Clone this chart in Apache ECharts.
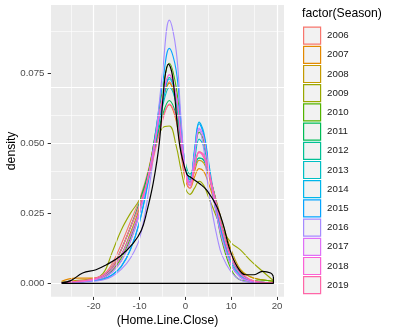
<!DOCTYPE html>
<html>
<head>
<meta charset="utf-8">
<script src="https://cdn.jsdelivr.net/npm/echarts@6/dist/echarts.min.js"></script>
<style>html,body{margin:0;padding:0;background:#fff;}#c{width:394px;height:331px;}</style>
</head>
<body>
<div id="c"></div>
<script>
// ---- data ----
const seasons = ['2006','2007','2008','2009','2010','2011','2012','2013','2014','2015','2016','2017','2018','2019'];
const colors = ['#F8766D','#E38900','#C49A00','#99A800','#53B400','#00BC56','#00C094','#00BFC4','#00B6EB','#06A4FF','#A58AFF','#DF70F8','#FB61D7','#FF66A8'];
const xs = [-27,-24,-21,-18,-16,-14,-12,-10,-8,-6.5,-5,-3.5,-2,-1,0,1,2,3,4,5,6,7,8,10,12,14,16,19.2];
const s2006 = [0.0003,0.0008,0.0015,0.003,0.007,0.014,0.022,0.030,0.041,0.053,0.065,0.072,0.065,0.052,0.040,0.036,0.042,0.047,0.045,0.039,0.032,0.025,0.018,0.0085,0.0035,0.0013,0.0005,0.0002];
const s2007 = [0.0008,0.0019,0.0019,0.002,0.005,0.012,0.020,0.028,0.038,0.049,0.059,0.0638,0.058,0.047,0.037,0.034,0.038,0.041,0.040,0.036,0.031,0.026,0.020,0.010,0.0045,0.0025,0.0015,0.0008];
const s2008 = [0.0004,0.001,0.0015,0.0025,0.005,0.010,0.018,0.027,0.040,0.053,0.065,0.0715,0.064,0.051,0.039,0.035,0.040,0.044,0.043,0.039,0.034,0.028,0.022,0.012,0.005,0.0025,0.0015,0.0008];
const s2009 = [0.0005,0.0008,0.0012,0.0035,0.011,0.019,0.025,0.030,0.039,0.049,0.0555,0.0562,0.049,0.041,0.034,0.0318,0.034,0.0365,0.035,0.031,0.027,0.023,0.0195,0.0145,0.012,0.0085,0.0055,0.001];
const s2010 = [0.0002,0.0005,0.001,0.002,0.0045,0.009,0.016,0.026,0.040,0.054,0.069,0.0786,0.070,0.055,0.041,0.037,0.046,0.054,0.051,0.042,0.032,0.023,0.015,0.005,0.0012,0.0008,0.0012,0.0008];
const s2011 = [0.0003,0.0007,0.0012,0.0025,0.006,0.012,0.020,0.029,0.040,0.050,0.060,0.0653,0.060,0.050,0.041,0.038,0.042,0.0448,0.044,0.040,0.034,0.027,0.020,0.009,0.0035,0.0013,0.0005,0.0002];
const s2012 = [0.0003,0.0006,0.001,0.002,0.005,0.010,0.017,0.026,0.039,0.052,0.065,0.0735,0.067,0.054,0.043,0.039,0.042,0.0448,0.044,0.040,0.034,0.027,0.020,0.009,0.0035,0.0013,0.0005,0.0002];
const s2013 = [0.0002,0.0005,0.001,0.002,0.004,0.008,0.015,0.025,0.039,0.051,0.063,0.070,0.064,0.051,0.040,0.036,0.044,0.0515,0.049,0.041,0.033,0.025,0.018,0.008,0.003,0.0012,0.0005,0.0002];
const s2014 = [0.0002,0.0004,0.0008,0.0015,0.003,0.006,0.012,0.022,0.037,0.051,0.064,0.073,0.067,0.053,0.041,0.037,0.048,0.0576,0.054,0.044,0.034,0.025,0.017,0.007,0.0025,0.001,0.0004,0.0002];
const s2015 = [0.0002,0.0004,0.0008,0.0015,0.003,0.006,0.012,0.022,0.038,0.054,0.071,0.0839,0.076,0.058,0.041,0.036,0.047,0.057,0.053,0.043,0.032,0.023,0.016,0.0065,0.0022,0.0008,0.0003,0.0001];
const s2016 = [0.0001,0.0003,0.0006,0.0012,0.0025,0.005,0.009,0.016,0.033,0.052,0.075,0.094,0.083,0.060,0.041,0.035,0.046,0.055,0.048,0.034,0.024,0.016,0.010,0.004,0.0012,0.0004,0.0002,0.0001];
const s2017 = [0.0002,0.0005,0.001,0.002,0.004,0.008,0.015,0.025,0.039,0.052,0.066,0.0745,0.067,0.053,0.040,0.035,0.046,0.0555,0.052,0.042,0.032,0.023,0.016,0.0065,0.0022,0.0008,0.0003,0.0001];
const s2018 = [0.0003,0.0007,0.0012,0.0025,0.005,0.010,0.017,0.026,0.039,0.052,0.066,0.0745,0.067,0.053,0.040,0.036,0.042,0.0467,0.045,0.040,0.033,0.026,0.019,0.0085,0.0033,0.0012,0.0005,0.0002];
const s2019 = [0.0003,0.0007,0.0013,0.003,0.006,0.012,0.020,0.028,0.038,0.048,0.058,0.064,0.059,0.048,0.038,0.034,0.041,0.047,0.046,0.041,0.034,0.027,0.020,0.0095,0.004,0.0015,0.0006,0.0002];
// overall density (black)
const allX = [-27,-25,-22.4,-19.5,-17.3,-14.3,-11.4,-9.6,-8.5,-7,-5.7,-4.5,-3.7,-2.8,-1.3,0.3,1.05,3.2,4.7,6.9,8.4,9.5,11.3,13.1,15,16.8,18.6,19.2];
const allY = [0.0002,0.001,0.0037,0.0049,0.0066,0.0096,0.0143,0.019,0.025,0.036,0.050,0.073,0.0783,0.074,0.050,0.039,0.038,0.0355,0.0332,0.0273,0.0202,0.0131,0.006,0.0031,0.0031,0.0043,0.0037,0.0025];
const baseX = [19.2,19.2,-27];
const baseY = [0.0025,0,0];
const xTicks = [-20,-10,0,10,20];
const xMinor = [-25,-15,-5,5,15];
const yTicks = [0,0.025,0.05,0.075];
const yMinor = [0.0125,0.0375,0.0625,0.0875];
const X_MIN = -29.31, X_MAX = 21.51, Y_MIN = -0.00474, Y_MAX = 0.0994;

const seriesVals = [s2006,s2007,s2008,s2009,s2010,s2011,s2012,s2013,s2014,s2015,s2016,s2017,s2018,s2019];
const FONT = "'Liberation Sans', Arial, Helvetica, sans-serif";

// gridlines drawn as markLines on a helper series (values come from tick arrays)
const gridLines = [].concat(
  xMinor.map(v => ({ xAxis: v, lineStyle: { color: '#fff', width: 0.6, type: 'solid' } })),
  yMinor.map(v => ({ yAxis: v, lineStyle: { color: '#fff', width: 0.6, type: 'solid' } })),
  xTicks.map(v => ({ xAxis: v, lineStyle: { color: '#fff', width: 1.2, type: 'solid' } })),
  yTicks.map(v => ({ yAxis: v, lineStyle: { color: '#fff', width: 1.2, type: 'solid' } }))
);

const series = [{
  name: 'grid', type: 'line', data: [], z: 1, silent: true, animation: false,
  markLine: { silent: true, symbol: ['none', 'none'], label: { show: false }, animation: false, data: gridLines, emphasis: { disabled: true } }
}];
seasons.forEach((name, i) => series.push({
  name, type: 'line', smooth: 0.4, showSymbol: false, symbol: 'none',
  data: xs.map((x, j) => [x, seriesVals[i][j]]),
  lineStyle: { color: colors[i], width: 1.1 }, itemStyle: { color: colors[i] },
  animation: false, silent: true, z: 3
}));
series.push({ name: 'all', type: 'line', smooth: 0.4, showSymbol: false, symbol: 'none',
  data: allX.map((x, j) => [x, allY[j]]), lineStyle: { color: '#000', width: 1.2 }, itemStyle: { color: '#000' }, animation: false, silent: true, z: 5 });
series.push({ name: 'base', type: 'line', smooth: false, showSymbol: false, symbol: 'none',
  data: baseX.map((x, j) => [x, baseY[j]]), lineStyle: { color: '#000', width: 1.2 }, itemStyle: { color: '#000' }, animation: false, silent: true, z: 5 });

const chart = echarts.init(document.getElementById('c'), null, { renderer: 'canvas' });
chart.setOption({
  animation: false,
  backgroundColor: '#fff',
  textStyle: { fontFamily: FONT },
  title: { text: 'factor(Season)', left: 302, top: 8, padding: 0, textStyle: { fontSize: 12.2, fontWeight: 'normal', color: '#000', fontFamily: FONT } },
  grid: { left: 51, top: 5, right: 110, bottom: 34.3, show: true, backgroundColor: '#EBEBEB', borderWidth: 0, containLabel: false, outerBoundsMode: 'none' },
  legend: {
    orient: 'vertical', left: 303, top: 26.5, padding: 0, itemWidth: 17, itemHeight: 17, itemGap: 1.0, icon: 'rect',
    textStyle: { fontSize: 9.7, color: '#1a1a1a', fontFamily: FONT, padding: [0, 0, 0, 1.5] },
    selectedMode: false,
    data: seasons.map((s, i) => ({ name: s, icon: 'rect', itemStyle: { color: '#F2F2F2', borderColor: colors[i], borderWidth: 1.2 } }))
  },
  xAxis: {
    type: 'value', min: X_MIN, max: X_MAX, position: 'bottom',
    name: '(Home.Line.Close)', nameLocation: 'middle', nameGap: 17.5, nameMoveOverlap: false,
    nameTextStyle: { fontSize: 12.2, color: '#000', fontFamily: FONT },
    axisLine: { show: false, onZero: false },
    axisTick: { show: true, length: 3.3, customValues: xTicks, lineStyle: { color: '#333', width: 1 } },
    axisLabel: { customValues: xTicks, color: '#4D4D4D', fontSize: 9.7, margin: 5, formatter: v => String(v) },
    splitLine: { show: false }
  },
  yAxis: {
    type: 'value', min: Y_MIN, max: Y_MAX, position: 'left',
    name: 'density', nameLocation: 'middle', nameGap: 33, nameRotate: 90, nameMoveOverlap: false,
    nameTextStyle: { fontSize: 12.2, color: '#000', fontFamily: FONT },
    axisLine: { show: false, onZero: false },
    axisTick: { show: true, length: 3.3, customValues: yTicks, lineStyle: { color: '#333', width: 1 } },
    axisLabel: { customValues: yTicks, color: '#4D4D4D', fontSize: 9.7, margin: 6.5, formatter: v => v.toFixed(3) },
    splitLine: { show: false }
  },
  series
});
</script>
</body>
</html>
